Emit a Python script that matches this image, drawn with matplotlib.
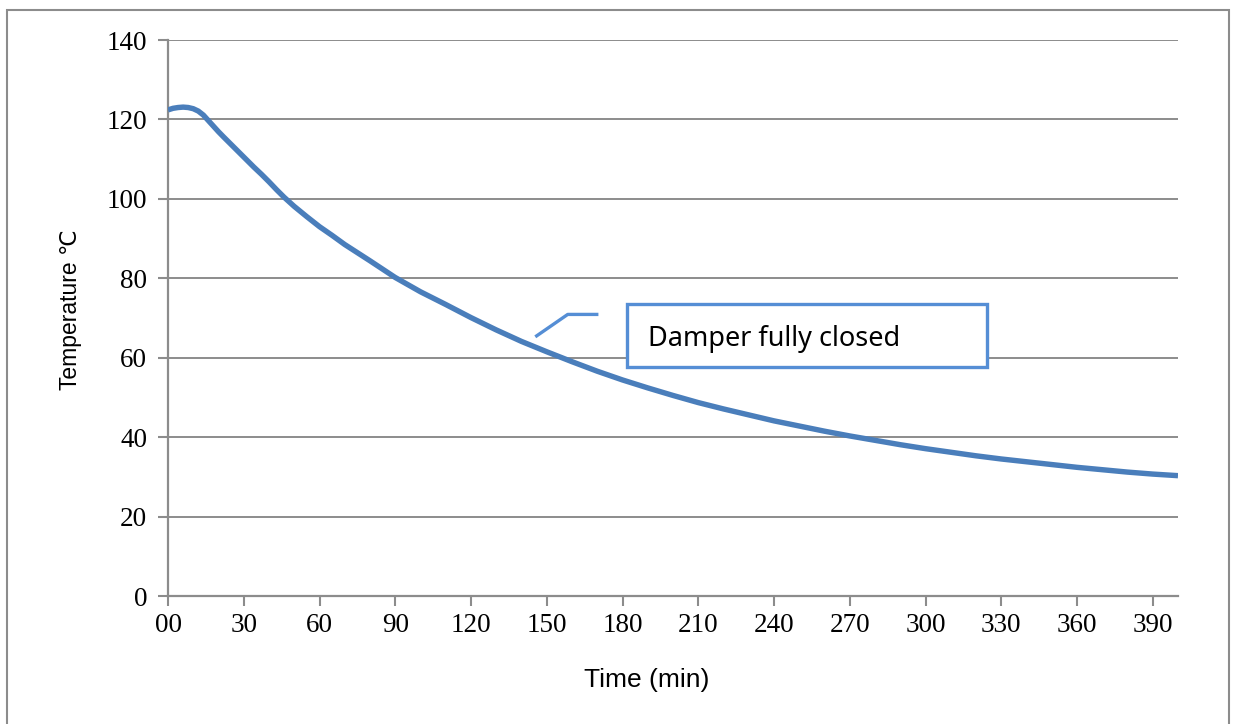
import matplotlib
matplotlib.use("Agg")
import matplotlib.pyplot as plt
from matplotlib.patches import Rectangle
from matplotlib.lines import Line2D

# Data
time_min = [0, 2, 4, 6, 8, 10, 12, 14, 16, 18, 20, 22, 25, 28, 31, 34, 37, 40,
            43, 46, 50, 55, 60, 65, 70, 80, 90, 100, 110, 120, 130, 140, 150,
            160, 170, 180, 190, 200, 210, 220, 230, 240, 250, 260, 270, 280,
            290, 300, 310, 320, 330, 340, 350, 360, 370, 380, 390, 400]
temperature_c = [122.4, 122.8, 123.0, 123.1, 123.0, 122.7, 122.1, 121.1, 119.7,
                 118.3, 116.9, 115.6, 113.7, 111.8, 109.9, 108.0, 106.2, 104.3,
                 102.3, 100.4, 98.1, 95.5, 93.0, 90.8, 88.5, 84.4, 80.2, 76.6,
                 73.4, 70.1, 67.0, 64.1, 61.5, 59.0, 56.6, 54.4, 52.4, 50.5,
                 48.7, 47.1, 45.6, 44.1, 42.8, 41.5, 40.3, 39.2, 38.1, 37.1,
                 36.2, 35.3, 34.5, 33.8, 33.1, 32.4, 31.8, 31.2, 30.7, 30.3]
x_ticks = list(range(0, 391, 30))
x_tick_labels = ["00"] + [str(v) for v in x_ticks[1:]]
y_ticks = list(range(0, 141, 20))
annotation_text = "Damper fully closed"

W, H = 1233, 724
fig = plt.figure(figsize=(W / 100, H / 100), dpi=100)
fig.patch.set_facecolor("white")

# chart-area border
fig.add_artist(Rectangle((7 / W, -0.05), (1229 - 7) / W, 1.05 - 10 / H,
                         transform=fig.transFigure, fill=False,
                         edgecolor="#8c8c8c", linewidth=1.5))

ax = fig.add_axes([168 / W, 1 - 596 / H, (1178 - 168) / W, (596 - 40) / H])
ax.plot(time_min, temperature_c, color="#4a7ebb", linewidth=3.9,
        solid_capstyle="butt", solid_joinstyle="round", zorder=3)

ax.set_xlim(0, 400)
ax.set_ylim(0, 140)
ax.set_xticks(x_ticks)
ax.set_xticklabels(x_tick_labels)
ax.set_yticks(y_ticks)

grid_c = "#8c8c8c"
ax.yaxis.grid(True, color=grid_c, linewidth=1.4, zorder=0)
ax.set_axisbelow(True)
for s in ["top", "right"]:
    ax.spines[s].set_visible(False)
for s in ["left", "bottom"]:
    ax.spines[s].set_color(grid_c)
    ax.spines[s].set_linewidth(1.6)

ax.tick_params(axis="both", colors=grid_c, width=1.5, length=7,
               labelcolor="black", labelsize=19.5)
ax.tick_params(axis="y", pad=8)
ax.tick_params(axis="x", pad=5)
for lab in ax.get_xticklabels() + ax.get_yticklabels():
    lab.set_fontfamily("Liberation Serif")

ax.set_xlabel("Time (min)", fontsize=19, fontfamily="Liberation Sans", labelpad=22)
ax.xaxis.label.set_x((647 - 168) / 1010)
ax.set_ylabel("Temperature \u2103", fontsize=16.5,
              fontfamily=["Liberation Sans", "DejaVu Sans"], labelpad=18)
ax.yaxis.label.set_y((596 - 310) / 556)

# callout
call_c = "#558ed5"
ax.add_line(Line2D([146, 158.3, 169.8], [65.5, 70.9, 70.9], color=call_c,
                   linewidth=2.4, zorder=4))
ax.add_patch(Rectangle((181.8, 57.7), 324.4 - 181.8, 73.5 - 57.7, facecolor="white",
                       edgecolor=call_c, linewidth=2.4, zorder=5))
ax.text(190.1, 64.6, annotation_text, fontsize=19.5, fontfamily="Noto Sans",
        va="center", ha="left", zorder=6)

fig.savefig("out.png", dpi=100)
